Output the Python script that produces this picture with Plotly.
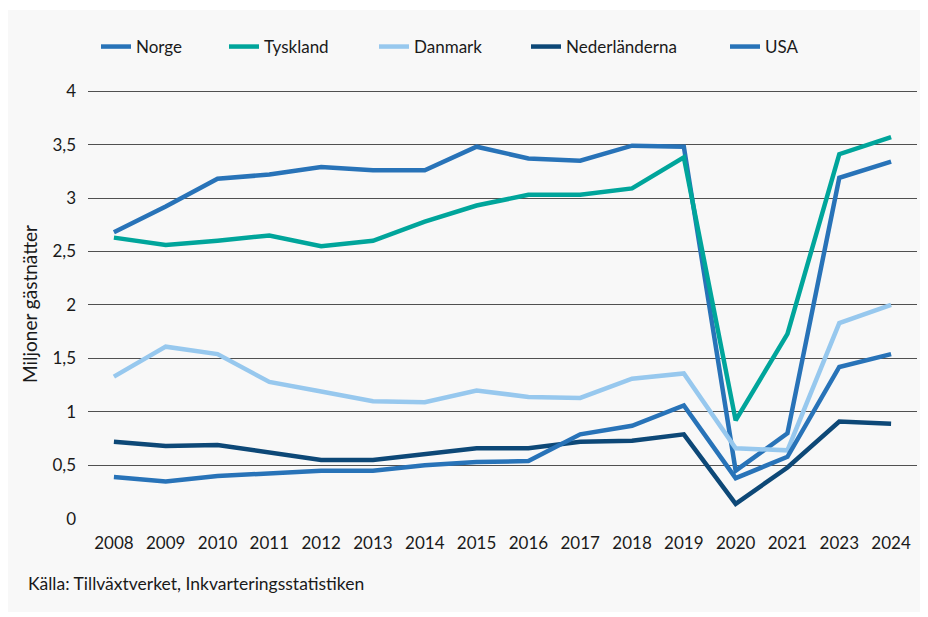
import plotly.graph_objects as go

years = ["2008", "2009", "2010", "2011", "2012", "2013", "2014", "2015",
         "2016", "2017", "2018", "2019", "2020", "2021", "2023", "2024"]

norge = [2.68, 2.92, 3.18, 3.22, 3.29, 3.26, 3.26, 3.48, 3.37, 3.35, 3.49, 3.48, 0.45, 0.80, 3.19, 3.34]
tyskland = [2.63, 2.56, 2.60, 2.65, 2.55, 2.60, 2.78, 2.93, 3.03, 3.03, 3.09, 3.38, 0.92, 1.73, 3.41, 3.57]
danmark = [1.33, 1.61, 1.54, 1.28, 1.19, 1.10, 1.09, 1.20, 1.14, 1.13, 1.31, 1.36, 0.66, 0.64, 1.83, 2.00]
nederlanderna = [0.72, 0.68, 0.69, 0.62, 0.55, 0.55, 0.61, 0.66, 0.66, 0.72, 0.73, 0.79, 0.14, 0.48, 0.91, 0.89]
usa = [0.39, 0.35, 0.40, 0.42, 0.45, 0.45, 0.50, 0.53, 0.54, 0.79, 0.87, 1.06, 0.38, 0.58, 1.42, 1.54]

y_ticks = [0, 0.5, 1, 1.5, 2, 2.5, 3, 3.5, 4]
y_labels = ["0", "0,5", "1", "1,5", "2", "2,5", "3", "3,5", "4"]

series_names = ["Norge", "Tyskland", "Danmark", "Nederländerna", "USA"]
series_values = [norge, tyskland, danmark, nederlanderna, usa]
series_colors = ["#2873b8", "#00a59b", "#97c8ee", "#0d4877", "#2873b8"]

FONT = "Lato"
TXT = "#1a1a1a"

# Plot area in figure pixels (page is offset by 8px body margin)
L, R, T, B = 80, 19, 81, 106
PW, PH = 928 - L - R, 617 - T - B


def px(xf):
    return (xf - L) / PW


def py(yf):
    return (T + PH - yf) / PH


legend_x_fig = [88, 216, 366, 518, 717]
legend_ids = ["legend", "legend2", "legend3", "legend4", "legend5"]

fig = go.Figure()
for name, vals, color, lid in zip(series_names, series_values, series_colors, legend_ids):
    fig.add_trace(go.Scatter(
        x=years, y=vals, name=name, mode="lines",
        line=dict(color=color, width=4.5), legend=lid,
    ))

legend_layout = {}
for lid, lx in zip(legend_ids, legend_x_fig):
    legend_layout[lid] = dict(
        orientation="h", x=px(lx), y=py(39), yanchor="middle", xanchor="left",
        font=dict(family=FONT, size=17, color=TXT),
        bgcolor="rgba(0,0,0,0)", itemwidth=30,
    )

fig.update_layout(
    width=928, height=617,
    margin=dict(l=L, r=R, t=T, b=B),
    paper_bgcolor="white",
    plot_bgcolor="#f8f8f8",
    font=dict(family=FONT, size=17, color=TXT),
    showlegend=True,
    xaxis=dict(
        type="category", range=[-0.5, 15.5],
        showgrid=False, zeroline=False, showline=False,
        ticks="", ticklabelstandoff=12,
        tickfont=dict(family=FONT, size=17, color=TXT),
    ),
    yaxis=dict(
        range=[-0.002, 4.02], tickvals=y_ticks, ticktext=y_labels,
        showgrid=True, gridcolor="#505050", gridwidth=1,
        zeroline=False, showline=False, ticks="", ticklabelstandoff=11,
        tickfont=dict(family=FONT, size=17, color=TXT),
        title=dict(text="Miljoner gästnätter",
                   font=dict(family=FONT, size=19, color=TXT), standoff=9),
    ),
    shapes=[
        dict(type="rect", xref="paper", yref="paper",
             x0=px(-2), x1=px(914), y0=py(604), y1=py(2),
             fillcolor="#f8f8f8", line=dict(width=0), layer="below"),
    ],
    annotations=[
        dict(text="Källa: Tillväxtverket, Inkvarteringsstatistiken",
             xref="paper", yref="paper", x=px(18), y=py(575),
             xanchor="left", yanchor="middle", showarrow=False,
             font=dict(family=FONT, size=17.5, color=TXT)),
    ],
    **legend_layout,
)

fig.write_html("out.html")
